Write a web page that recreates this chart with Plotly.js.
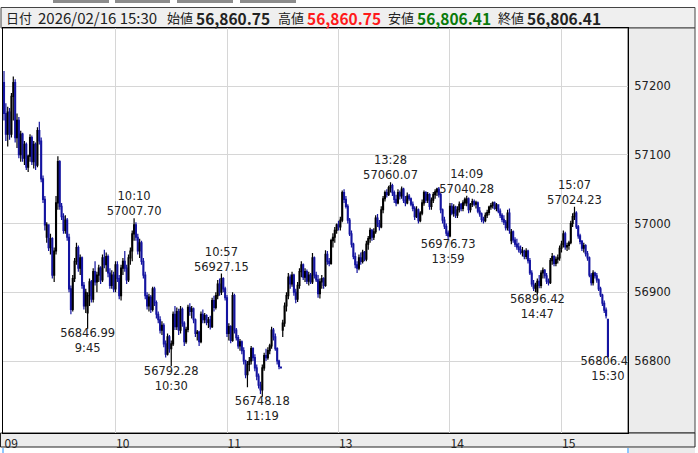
<!DOCTYPE html>
<html><head><meta charset="utf-8">
<script src="https://cdn.plot.ly/plotly-3.0.1.min.js"></script>
<style>html,body{margin:0;padding:0;background:#fff}#chart{width:698px;height:453px}</style>
</head><body><div id="chart"></div>
<script>
// Morning session 9:00-11:29 (one candle per minute)
const amOpen=[
57205,57160,57130,57162,57130,57185,57205,57125,57150,57100,
57130,57095,57115,57082,57098,57125,57090,57115,57085,57135,
57120,57065,57035,56980,56998,56965,56978,56925,56960,57030,
57090,57025,57010,56990,57005,56980,56905,56875,56920,56945,
56965,56935,56950,56910,56880,56870,56895,56915,56890,56930,
56915,56925,56935,56918,56950,56940,56952,56928,56910,56925,
56905,56940,56920,56895,56935,56945,56935,56918,56950,56960,
56985,56998,56980,56960,56972,56945,56925,56895,56880,56893,
56875,56905,56885,56868,56860,56845,56852,56825,56810,56835,
56818,56825,56868,56850,56872,56845,56875,56855,56828,56846,
56878,56872,56876,56860,56840,56842,56828,56868,56860,56866,
56856,56860,56850,56888,56878,56895,56912,56900,56920,56905,
56892,56840,56850,56830,56895,56845,56834,56822,56828,56815,
56800,56780,56795,56800,56818,56805,56790,56778,56765,56758,
56790,56808,56805,56815,56822,56845,56835,56818,56800,56791];
const amHigh=[
57222,57175,57170,57168,57190,57214,57210,57160,57155,57135,
57132,57120,57118,57100,57130,57128,57120,57118,57140,57148,
57125,57070,57040,57002,56999,56985,56980,56965,57040,57098,
57092,57030,57015,57012,57008,56985,56910,56925,56950,56972,
56968,56955,56952,56915,56905,56900,56920,56918,56935,56945,
56930,56940,56938,56955,56962,56958,56955,56935,56932,56930,
56945,56945,56925,56940,56950,56960,56940,56955,56965,56990,
57007.70,57002,56985,56978,56975,56950,56930,56900,56898,56896,
56908,56908,56888,56872,56865,56858,56855,56830,56840,56838,
56830,56872,56880,56878,56876,56880,56878,56858,56850,56882,
56884,56880,56878,56862,56845,56844,56872,56875,56870,56868,
56864,56866,56892,56895,56900,56918,56920,56927.15,56922,56908,
56896,56855,56852,56900,56898,56848,56838,56832,56830,56820,
56802,56800,56806,56822,56820,56810,56795,56782,56770,56795,
56812,56818,56820,56825,56850,56848,56840,56820,56802,56791];
const amLow=[
57150,57120,57112,57122,57125,57150,57118,57110,57095,57090,
57090,57085,57078,57075,57090,57085,57080,57078,57082,57115,
57060,57030,56990,56972,56960,56955,56920,56915,56955,57020,
57020,57005,56985,56985,56975,56900,56868,56872,56915,56940,
56930,56925,56905,56875,56870,56846.99,56880,56885,56885,56910,
56900,56915,56912,56915,56935,56930,56922,56905,56905,56900,
56900,56915,56890,56888,56925,56930,56912,56915,56940,56945,
56975,56975,56955,56950,56940,56920,56890,56875,56872,56870,
56872,56880,56862,56855,56840,56838,56820,56805,56808,56812,
56792.28,56822,56845,56845,56838,56840,56850,56822,56825,56842,
56866,56862,56855,56835,56830,56822,56826,56855,56855,56852,
56848,56846,56848,56872,56875,56890,56895,56896,56900,56888,
56835,56830,56826,56828,56840,56830,56818,56815,56810,56795,
56775,56762,56785,56795,56800,56785,56772,56760,56752,56748.18,
56786,56800,56802,56810,56818,56830,56815,56795,56788,56790];
const amClose=[
57160,57130,57162,57130,57185,57205,57125,57150,57100,57130,
57095,57115,57082,57098,57125,57090,57115,57085,57135,57120,
57065,57035,56998,56998,56965,56978,56925,56960,57030,57090,
57025,57010,56990,57005,56980,56905,56875,56920,56945,56965,
56935,56950,56910,56880,56900,56895,56915,56890,56930,56915,
56925,56935,56918,56950,56940,56952,56928,56910,56925,56905,
56940,56920,56895,56935,56945,56935,56918,56950,56960,56985,
56998,56980,56960,56972,56945,56925,56895,56880,56893,56875,
56905,56885,56868,56860,56845,56852,56825,56810,56835,56818,
56825,56868,56850,56872,56845,56875,56855,56828,56846,56878,
56872,56876,56860,56840,56842,56828,56868,56860,56866,56856,
56860,56850,56888,56878,56895,56912,56900,56920,56905,56892,
56840,56850,56830,56895,56845,56834,56822,56828,56815,56800,
56780,56795,56800,56818,56805,56790,56778,56765,56758,56790,
56808,56805,56815,56822,56845,56835,56818,56800,56792,56790];
// Afternoon session 12:30-15:24, then the 15:30 closing candle
const pmOpen=[
56845,56855,56880,56895,56922,56912,56925,56900,56890,56910,
56930,56940,56922,56930,56916,56925,56915,56950,56925,56918,
56898,56915,56920,56910,56955,56945,56942,56975,56980,56990,
56998,56995,57005,57045,57035,57025,57005,56985,56970,56952,
56940,56935,56950,56945,56958,56948,56970,56978,56990,56980,
56988,57008,57000,56995,57020,57036,57045,57042,57052,57055,
57045,57035,57030,57045,57040,57050,57034,57030,57040,57036,
57028,57022,57010,57020,57004,57015,57030,57045,57034,57042,
57025,57034,57042,57046,57050,57042,57020,57005,56996,56986,
56982,57025,57015,57024,57012,57020,57028,57022,57030,57030,
57036,57020,57028,57032,57028,57030,57018,57014,57006,57004,
57012,57016,57024,57026,57030,57022,57027,57018,57012,57006,
57002,56994,57015,56975,56988,56976,56970,56966,56962,56958,
56960,56952,56960,56946,56928,56912,56906,56900,56916,56910,
56928,56932,56924,56916,56914,56946,56952,56942,56948,56950,
56964,56970,56985,56966,56968,56972,57000,57010,57015,56995,
56982,56974,56964,56968,56956,56950,56925,56914,56928,56924,
56918,56905,56896,56884,56874,56860.75];
const pmHigh=[
56860,56885,56900,56928,56926,56930,56927,56905,56915,56935,
56945,56942,56935,56933,56930,56928,56957,56952,56930,56925,
56920,56925,56922,56961,56960,56950,56978,56986,56995,57000,
57004,57010,57048,57050,57040,57028,57008,56990,56972,56958,
56945,56955,56958,56962,56960,56975,56982,56994,56992,56993,
57012,57014,57005,57025,57040,57048,57050,57055,57060.07,57058,
57048,57042,57050,57048,57054,57052,57040,57045,57043,57038,
57032,57025,57025,57022,57018,57035,57048,57047,57046,57044,
57038,57046,57050,57052,57053,57045,57022,57010,57000,56990,
57030,57030,57028,57026,57025,57032,57030,57034,57038,57040.28,
57038,57030,57036,57035,57033,57032,57024,57016,57010,57016,
57020,57026,57030,57032,57032,57030,57028,57022,57015,57012,
57005,57020,57022,56992,56990,56980,56978,56972,56968,56966,
56962,56964,56962,56950,56932,56918,56914,56920,56925,56932,
56936,56934,56928,56920,56950,56957,56954,56952,56955,56968,
56975,56990,56988,56972,56975,57004,57015,57024.23,57018,56998,
56985,56976,56972,56970,56960,56952,56928,56932,56930,56928,
56920,56908,56898,56888,56878,56860.75];
const pmLow=[
56835,56850,56872,56890,56905,56908,56895,56884,56886,56905,
56922,56918,56915,56912,56910,56912,56912,56920,56915,56892,
56891,56905,56905,56908,56940,56938,56940,56965,56972,56985,
56990,56990,57002,57030,57022,57000,56982,56965,56948,56935,
56928,56932,56940,56942,56945,56945,56962,56972,56975,56976,
56985,56995,56990,56993,57015,57032,57038,57040,57045,57040,
57030,57025,57028,57035,57036,57030,57025,57028,57033,57025,
57018,57005,57008,57000,57002,57012,57026,57030,57030,57020,
57020,57030,57036,57040,57038,57015,57000,56992,56982,56976.73,
56980,57012,57010,57008,57008,57016,57018,57018,57026,57025,
57015,57016,57024,57025,57022,57015,57010,57002,57000,57002,
57008,57012,57020,57022,57020,57018,57015,57008,57002,56998,
56990,56990,56985,56970,56972,56966,56962,56958,56955,56952,
56948,56948,56942,56925,56908,56902,56900,56896.42,56906,56906,
56920,56920,56912,56910,56912,56940,56938,56938,56942,56946,
56958,56965,56962,56960,56962,56970,56995,57005,56992,56978,
56970,56960,56958,56952,56946,56922,56910,56910,56920,56914,
56902,56893,56880,56870,56862,56806.41];
const pmClose=[
56855,56880,56895,56922,56912,56925,56900,56890,56910,56930,
56940,56922,56930,56916,56925,56915,56950,56925,56918,56898,
56915,56920,56910,56955,56945,56942,56975,56980,56990,56998,
56995,57005,57045,57035,57025,57005,56985,56970,56952,56940,
56935,56950,56945,56958,56948,56970,56978,56990,56980,56988,
57008,57000,56995,57020,57036,57045,57042,57052,57055,57045,
57035,57030,57045,57040,57050,57034,57030,57040,57036,57028,
57022,57010,57020,57004,57015,57030,57045,57034,57042,57025,
57034,57042,57046,57050,57042,57020,57005,56996,56986,56982,
57025,57015,57024,57012,57020,57028,57022,57030,57035,57036,
57020,57028,57032,57028,57030,57018,57014,57006,57004,57012,
57016,57024,57026,57030,57022,57027,57018,57012,57006,57002,
56994,57015,56990,56988,56976,56970,56966,56962,56958,56960,
56952,56960,56946,56928,56912,56906,56910,56916,56910,56928,
56932,56924,56916,56914,56946,56952,56942,56948,56950,56964,
56970,56985,56966,56968,56972,57000,57010,57015,56995,56982,
56974,56964,56968,56956,56950,56925,56914,56928,56924,56918,
56905,56896,56884,56874,56866,56806.41];

const tickSlots=[0,60,120,180,240,300];
const tickLabels=['09','10','11','13','14','15'];
const priceTicks=[56800,56900,57000,57100,57200];

const markSlots=[45,70,90,117,139,208,239,249,287,307,325];
const markTimes=['9:45','10:10','10:30','10:57','11:19','13:28','13:59','14:09','14:47','15:07','15:30'];
const markValues=[56846.99,57007.70,56792.28,56927.15,56748.18,57060.07,56976.73,57040.28,56896.42,57024.23,56806.41];
const markIsHigh=[false,true,false,true,false,true,false,true,false,true,false];

const opens=amOpen.concat(pmOpen), highs=amHigh.concat(pmHigh), lows=amLow.concat(pmLow), closes=amClose.concat(pmClose);
const slots=opens.map((_,i)=>i);

const L=3,W=625,T=28,H=405;
const px=x=>(x-L)/W, py=y=>(T+H-y)/H;

const candle={type:'candlestick',x:slots,open:opens,high:highs,low:lows,close:closes,
  increasing:{line:{color:'#000000',width:1.2},fillcolor:'#000000'},
  decreasing:{line:{color:'#1414a0',width:1.2},fillcolor:'#1414a0'},
  whiskerwidth:0,hoverinfo:'none',showlegend:false};

const labels={type:'scatter',mode:'text',x:markSlots,y:markValues,
  text:markValues.map((v,i)=>markIsHigh[i]?markTimes[i]+'<br>'+v.toFixed(2):v.toFixed(2)+'<br>'+markTimes[i]),
  textposition:markIsHigh.map(h=>h?'top center':'bottom center'),
  textfont:{family:'DejaVu Sans',size:11.5,color:'#222'},cliponaxis:true,hoverinfo:'skip',showlegend:false};

const hdrFont=(s,c)=>({family:'Noto Sans CJK JP',size:s,color:c||'#222'});
const hdrY=py(18);
const hdr=[
 ['日付',5,13,'#222'],['2026/02/16 15:30',37,15,'#222'],
 ['始値',166,13,'#222'],['<b>56,860.75</b>',195,15.5,'#222'],
 ['高値',277,13,'#222'],['<b>56,860.75</b>',306,15.5,'#ff1a1a'],
 ['安値',387,13,'#222'],['<b>56,806.41</b>',416,15.5,'#0a7a0a'],
 ['終値',497,13,'#222'],['<b>56,806.41</b>',526,15.5,'#222']
].map(a=>({xref:'paper',yref:'paper',x:px(a[1]),y:hdrY,xanchor:'left',yanchor:'middle',
  text:a[0],showarrow:false,font:hdrFont(a[2],a[3]),borderpad:0}));

const rect=(x0,y0,x1,y1,fill,line)=>({type:'rect',xref:'paper',yref:'paper',layer:'below',
  x0:px(x0),x1:px(x1),y0:py(y0),y1:py(y1),fillcolor:fill,line:line?{color:line,width:1}:{width:0}});
const vline=(x,y0,y1,c)=>({type:'line',xref:'paper',yref:'paper',x0:px(x),x1:px(x),y0:py(y0),y1:py(y1),line:{color:c,width:1}});

const shapes=[
 rect(53,0,109,3,'#8c8c8c'),rect(115,0,170,3,'#8c8c8c'),rect(177,0,233,3,'#8c8c8c'),rect(240,0,296,3,'#8c8c8c'),
 rect(1,7.5,695,28,'#efefef','#444'),
 rect(628,28,695,433,'#ececec','#444'),
 rect(0.5,433,695,447,'#ececec','#222'),
 rect(629,448,695,453,'#ececec'),
 vline(3,448,453,'#1e90ff'),vline(628,448,453,'#1e90ff')
];

const layout={width:698,height:453,margin:{l:L,r:698-L-W,t:T,b:453-T-H,pad:0},
  paper_bgcolor:'#ffffff',plot_bgcolor:'#ffffff',hovermode:false,showlegend:false,
  xaxis:{range:[-0.538,335.79],rangeslider:{visible:false},tickmode:'array',tickvals:tickSlots,ticktext:tickLabels,
    showgrid:true,gridcolor:'#d6d6d6',gridwidth:1,zeroline:false,ticks:'',ticklabelposition:'outside right',
    tickfont:{family:'Noto Sans CJK JP',size:12,color:'#222'},showline:true,linecolor:'#000',linewidth:1,mirror:true,fixedrange:true},
  yaxis:{side:'right',range:[56695.3,57284.4],tickmode:'array',tickvals:priceTicks,ticktext:priceTicks.map(String),
    showgrid:true,gridcolor:'#d6d6d6',gridwidth:1,zeroline:false,ticks:'',ticklabelstandoff:3,
    tickfont:{family:'DejaVu Sans',size:11.5,color:'#222'},showline:true,linecolor:'#000',linewidth:1,mirror:true,fixedrange:true},
  shapes:shapes,annotations:hdr};

Plotly.newPlot('chart',[candle,labels],layout,{staticPlot:true,displayModeBar:false});
</script></body></html>
